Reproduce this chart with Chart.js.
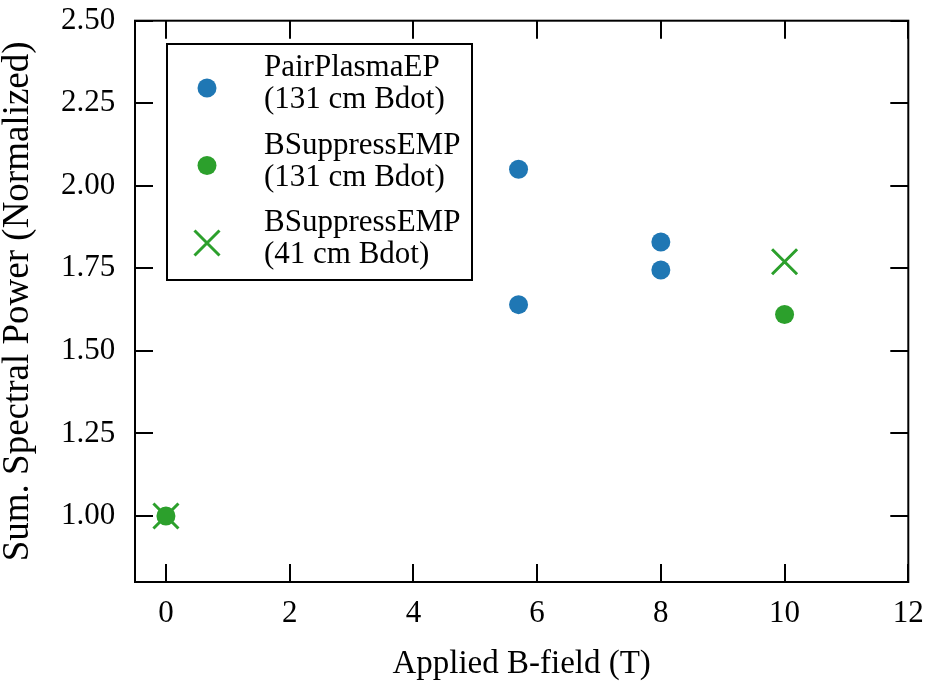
<!DOCTYPE html>
<html>
<head>
<meta charset="utf-8">
<script src="https://cdn.jsdelivr.net/npm/chart.js@4.4.1/dist/chart.umd.min.js"></script>
<style>
  html, body { margin: 0; padding: 0; background: #fff; }
  #wrap { width: 929px; height: 688px; }
</style>
</head>
<body>
<div id="wrap"><canvas id="scatter-chart"></canvas></div>
<script>
// data
const pairX = [5.7, 5.7, 8, 8];
const pairY = [2.05, 1.64, 1.83, 1.745];
const supp131X = [0, 10];
const supp131Y = [1.0, 1.61];
const supp41X = [0, 10];
const supp41Y = [1.0, 1.77];

const seriesLabels = [
    ['PairPlasmaEP', '(131 cm Bdot)'],
    ['BSuppressEMP', '(131 cm Bdot)'],
    ['BSuppressEMP', '(41 cm Bdot)']
];
const xTicks = [0, 2, 4, 6, 8, 10, 12];
const yTicks = [1.0, 1.25, 1.5, 1.75, 2.0, 2.25, 2.5];

const blue = '#1f77b4';
const green = '#2ca02c';
const font = "'Liberation Serif', 'Times New Roman', serif";

function toPoints(xs, ys) {
    let pts = [];
    for (let i = 0; i < xs.length; i++)
        pts.push({ x: xs[i], y: ys[i] });
    return pts;
}

// frame + inward ticks on all four sides, and the boxed legend
const framePlugin = {
    id: 'frame',
    afterDraw(chart) {
        const ctx = chart.ctx;
        const a = chart.chartArea;
        const xs = chart.scales.x, ys = chart.scales.y;
        const len = 18;
        ctx.save();
        ctx.strokeStyle = '#000';
        ctx.lineWidth = 2;
        ctx.strokeRect(a.left, a.top, a.right - a.left, a.bottom - a.top);
        ctx.beginPath();
        xs.ticks.forEach(t => {
            let px = Math.round(xs.getPixelForValue(t.value));
            ctx.moveTo(px, a.bottom); ctx.lineTo(px, a.bottom - len);
            ctx.moveTo(px, a.top); ctx.lineTo(px, a.top + len);
        });
        ys.ticks.forEach(t => {
            let py = Math.round(ys.getPixelForValue(t.value));
            ctx.moveTo(a.left, py); ctx.lineTo(a.left + len, py);
            ctx.moveTo(a.right, py); ctx.lineTo(a.right - len, py);
        });
        ctx.stroke();

        // legend
        const lx = 167, ly = 44, lw = 305, lh = 236;
        ctx.fillStyle = '#fff';
        ctx.fillRect(lx, ly, lw, lh);
        ctx.lineWidth = 2;
        ctx.strokeRect(lx, ly, lw, lh);
        ctx.font = '31px ' + font;
        ctx.textBaseline = 'alphabetic';
        ctx.textAlign = 'left';
        chart.data.datasets.forEach((ds, i) => {
            let cy = 88 + i * 77.5;
            let mx = 207;
            if (ds.pointStyle === 'crossRot') {
                let r = 12.5;
                ctx.strokeStyle = ds.borderColor;
                ctx.lineWidth = 3;
                ctx.beginPath();
                ctx.moveTo(mx - r, cy - r); ctx.lineTo(mx + r, cy + r);
                ctx.moveTo(mx - r, cy + r); ctx.lineTo(mx + r, cy - r);
                ctx.stroke();
            } else {
                ctx.fillStyle = ds.backgroundColor;
                ctx.beginPath();
                ctx.arc(mx, cy, 9.5, 0, Math.PI * 2);
                ctx.fill();
            }
            ctx.fillStyle = '#000';
            ds.label.forEach((line, j) => {
                ctx.fillText(line, 264, cy - 12 + j * 32);
            });
        });
        ctx.restore();
    }
};

// first dataset is painted last (on top), so the dots cover the crosses
const data = {
    datasets: [{
        label: seriesLabels[0],
        data: toPoints(pairX, pairY),
        backgroundColor: blue,
        borderColor: blue,
        pointStyle: 'circle',
        pointRadius: 9.5,
        borderWidth: 0
    }, {
        label: seriesLabels[1],
        data: toPoints(supp131X, supp131Y),
        backgroundColor: green,
        borderColor: green,
        pointStyle: 'circle',
        pointRadius: 9.5,
        borderWidth: 0
    }, {
        label: seriesLabels[2],
        data: toPoints(supp41X, supp41Y),
        backgroundColor: green,
        borderColor: green,
        pointStyle: 'crossRot',
        pointRadius: 17.7,
        borderWidth: 3
    }]
};

const config = {
    type: 'scatter',
    data: data,
    options: {
        responsive: false,
        animation: false,
        layout: { padding: { left: 0, right: 18, top: 12, bottom: 0 } },
        plugins: {
            legend: { display: false },
            tooltip: { enabled: false }
        },
        scales: {
            x: {
                type: 'linear',
                min: -0.5,
                max: 12,
                afterBuildTicks: s => { s.ticks = xTicks.map(v => ({ value: v })); },
                afterFit: s => { s.height = 106; s.paddingLeft = 0; s.paddingRight = 0; },
                grid: { display: false, drawTicks: false },
                border: { display: false },
                ticks: {
                    padding: 13,
                    color: '#000',
                    font: { family: font, size: 31 },
                    maxRotation: 0,
                    callback: v => String(v)
                },
                title: {
                    display: true,
                    text: 'Applied B-field (T)',
                    color: '#000',
                    font: { family: font, size: 33, lineHeight: 1 },
                    padding: { top: 0, bottom: 7 }
                }
            },
            y: {
                type: 'linear',
                min: 0.8,
                max: 2.5,
                afterBuildTicks: s => { s.ticks = yTicks.map(v => ({ value: v })); },
                afterFit: s => { s.width = 135; s.paddingTop = 0; s.paddingBottom = 0; },
                grid: { display: false, drawTicks: false },
                border: { display: false },
                ticks: {
                    // the tick padding also pads the plot top, so keep it small
                    // and let a trailing space make up the gap to the axis
                    padding: 12,
                    color: '#000',
                    font: { family: font, size: 31, lineHeight: 0.75 },
                    callback: v => v.toFixed(2) + ' '
                },
                title: {
                    display: true,
                    text: 'Sum. Spectral Power (Normalized)',
                    color: '#000',
                    font: { family: font, size: 37, lineHeight: 1 },
                    padding: { top: 0, bottom: 0 }
                }
            }
        }
    },
    plugins: [framePlugin]
};

const canvas = document.getElementById('scatter-chart');
canvas.width = 929;
canvas.height = 688;
new Chart(canvas.getContext('2d'), config);
</script>
</body>
</html>
